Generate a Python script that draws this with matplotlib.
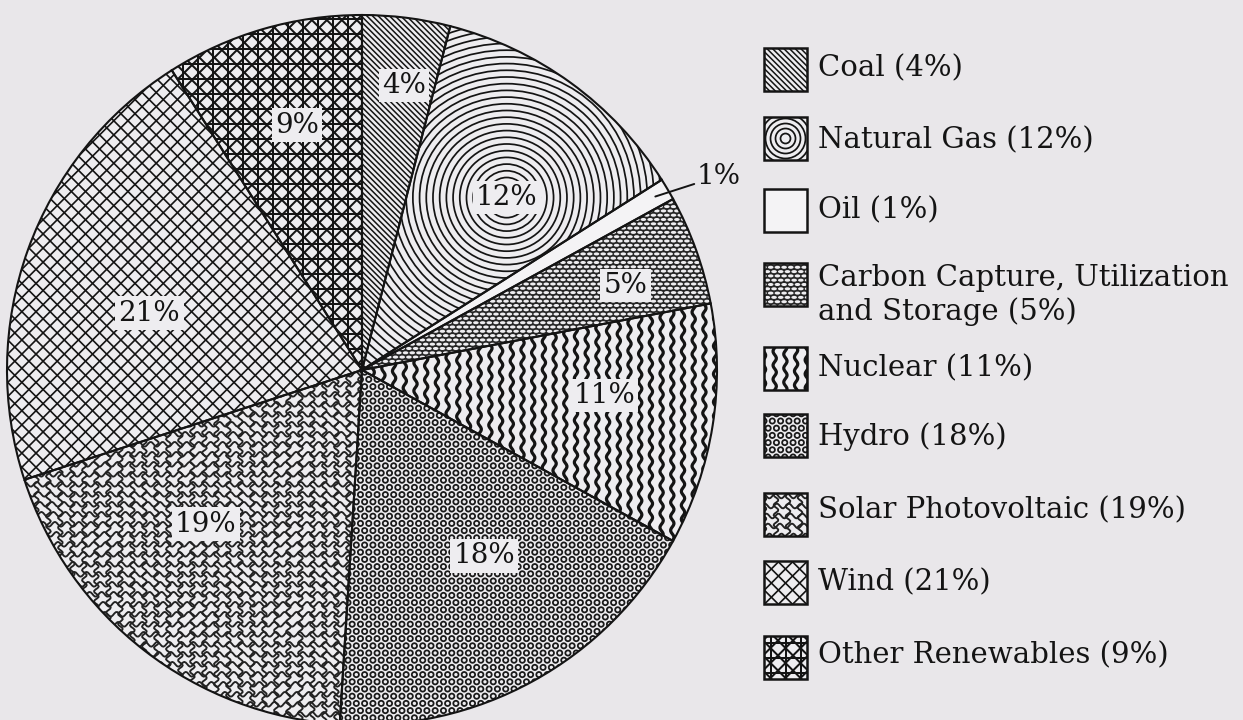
import numpy as np
import matplotlib
matplotlib.use('Agg')
import matplotlib.pyplot as plt
from matplotlib.collections import LineCollection
from matplotlib.patches import Wedge, Rectangle, Circle
from matplotlib.path import Path
from matplotlib.transforms import Affine2D

# data
names = ['Coal', 'Natural Gas', 'Oil', 'Carbon Capture, Utilization\nand Storage',
         'Nuclear', 'Hydro', 'Solar Photovoltaic', 'Wind', 'Other Renewables']
values = [4, 12, 1, 5, 11, 18, 19, 21, 9]
patterns = ['coal', 'gas', 'oil', 'ccus', 'nuclear', 'hydro', 'solar', 'wind', 'other']

# label placement (fraction of radius, angle shift in degrees)
lab_r = [0.81, 0.634, 0.96, 0.78, 0.686, 0.626, 0.618, 0.62, 0.714]
lab_da = [-1.2, -4.0, 0, -2.0, 3.0, 4.5, -7.6, 4.8, -1.3]
leg_y = [69, 138, 210, 284, 368, 435, 514, 582, 657]   # image pixels from top
leg_ty = [68, 140, 210, 295, 368, 437, 510, 582, 655]

BG = '#e9e7ea'
FILL = '#eeedf0'
INK = '#141414'
H = 720

plt.rcParams['font.family'] = ['DejaVu Serif']

fig = plt.figure(figsize=(12.43, 7.2), dpi=100, facecolor=BG)
ax = fig.add_axes([0, 0, 1, 1])
ax.set_facecolor(BG)

CX, CY, R = 362, H - 370, 355


def box_of(p):
    bb = p.get_patch_transform().transform_path(p.get_path()).get_extents()
    return bb.x0, bb.y0, bb.x1, bb.y1


def lines(ax, clip, box, angle, step, lw, offset=0.0, color=INK):
    x0, y0, x1, y1 = box
    c = np.array([(x0 + x1) / 2, (y0 + y1) / 2])
    half = np.hypot(x1 - x0, y1 - y0) / 2 + step
    t = np.radians(angle)
    d = np.array([np.cos(t), np.sin(t)])
    n = np.array([-np.sin(t), np.cos(t)])
    segs = [[c + n * k - d * half, c + n * k + d * half]
            for k in np.arange(-half, half, step) + offset]
    lc = LineCollection(segs, colors=color, linewidths=lw, zorder=2)
    ax.add_collection(lc)
    lc.set_clip_path(clip)


def waves(ax, clip, box, step, amp, wl, lw, vertical=True, color=INK, phase_step=0.0):
    x0, y0, x1, y1 = box
    segs = []
    if vertical:
        yy = np.linspace(y0 - 5, y1 + 5, int((y1 - y0) / 1.5) + 10)
        for i, x in enumerate(np.arange(x0 - step, x1 + step, step)):
            xs = x + amp * np.sin(2 * np.pi * yy / wl + i * phase_step)
            segs.append(np.column_stack([xs, yy]))
    else:
        xx = np.linspace(x0 - 5, x1 + 5, int((x1 - x0) / 1.5) + 10)
        for i, y in enumerate(np.arange(y0 - step, y1 + step, step)):
            ys = y + amp * np.sin(2 * np.pi * xx / wl + i * phase_step)
            segs.append(np.column_stack([xx, ys]))
    lc = LineCollection(segs, colors=color, linewidths=lw, zorder=2)
    ax.add_collection(lc)
    lc.set_clip_path(clip)


def dots(ax, clip, box, dx, dy, marker, s, fc, ec, lw):
    x0, y0, x1, y1 = box
    pts = []
    for j, y in enumerate(np.arange(y0 - dy, y1 + dy, dy)):
        off = dx / 2 if j % 2 else 0
        for x in np.arange(x0 - dx, x1 + dx, dx):
            pts.append((x + off, y))
    pts = np.array(pts)
    sc = ax.scatter(pts[:, 0], pts[:, 1], s=s, marker=marker, facecolors=fc,
                    edgecolors=ec, linewidths=lw, zorder=2)
    sc.set_clip_path(clip)


def rings(ax, clip, center, rmax, step, lw):
    for r in np.arange(step, rmax, step):
        c = Circle(center, r, fill=False, ec=INK, lw=lw, zorder=2)
        ax.add_patch(c)
        c.set_clip_path(clip)


oval = Path.unit_circle().transformed(Affine2D().scale(1.0, 0.55))


def fill_pattern(kind, patch, box, center=None, small=False):
    if kind == 'coal':
        lines(ax, patch, box, -45, 4.0, 1.1)
    elif kind == 'gas':
        x0, y0, x1, y1 = box
        rings(ax, patch, center, np.hypot(x1 - x0, y1 - y0), 5.0 if small else 6.7, 1.25)
    elif kind == 'ccus':
        patch.set_facecolor('#262626')
        dots(ax, patch, box, 6.7, 4.3, oval, 16, FILL, 'none', 0)
    elif kind == 'nuclear':
        waves(ax, patch, box, 10.7, 1.7, 14, 2.3, vertical=True, phase_step=1.3)
    elif kind == 'hydro':
        dots(ax, patch, box, 8.3, 7.2, 'o', 14, 'none', '#1a1a1a', 1.3)
    elif kind == 'solar':
        waves(ax, patch, box, 10, 2.4, 12, 1.35, vertical=False, color='#222222', phase_step=0.8)
        waves(ax, patch, box, 12, 2.4, 10, 1.35, vertical=True, color='#222222', phase_step=0.8)
    elif kind == 'wind':
        lines(ax, patch, box, 45, 10, 1.2)
        lines(ax, patch, box, -45, 10, 1.2)
    elif kind == 'other':
        lines(ax, patch, box, 0, 15, 1.45)
        lines(ax, patch, box, 90, 15, 1.45)
        lines(ax, patch, box, 45, 10.6, 1.45, offset=5.3)
        lines(ax, patch, box, -45, 10.6, 1.45, offset=5.3)


wedges, _ = ax.pie(values, radius=R, center=(CX, CY), startangle=90, counterclock=False,
                   colors=[FILL] * len(values),
                   wedgeprops=dict(edgecolor='none', linewidth=0))

mids = []
for w, kind, i in zip(wedges, patterns, range(len(values))):
    mid = np.radians((w.theta1 + w.theta2) / 2 + lab_da[i])
    mids.append(mid)
    lx = CX + lab_r[i] * R * np.cos(mid)
    ly = CY + lab_r[i] * R * np.sin(mid)
    if kind == 'oil':
        w.set_facecolor('#f4f3f5')
    fill_pattern(kind, w, box_of(w), center=(lx, ly))
    ax.add_patch(Wedge(w.center, w.r, w.theta1, w.theta2, fill=False,
                       ec=INK, lw=1.5, zorder=5))

for i, v in enumerate(values):
    lx = CX + lab_r[i] * R * np.cos(mids[i])
    ly = CY + lab_r[i] * R * np.sin(mids[i])
    if patterns[i] == 'oil':
        ax.annotate(f'{v}%', xy=(lx, ly), xytext=(697, H - 176), fontsize=20,
                    color=INK, va='center', ha='left', zorder=7,
                    arrowprops=dict(arrowstyle='-', color=INK, lw=1.4,
                                    shrinkA=0, shrinkB=0))
    else:
        ax.text(lx, ly, f'{v}%', fontsize=20, color=INK, ha='center', va='center',
                zorder=7, bbox=dict(boxstyle='square,pad=0.12', fc=FILL, ec='none'))

# legend
for i, (name, v, kind) in enumerate(zip(names, values, patterns)):
    sx, sy, ss = 764, H - leg_y[i] - 22, 43
    rect = Rectangle((sx, sy), ss, ss, fc='#f4f3f5' if kind == 'oil' else FILL,
                     ec='none', zorder=1)
    ax.add_patch(rect)
    fill_pattern(kind, rect, (sx, sy, sx + ss, sy + ss),
                 center=(sx + ss / 2, sy + ss / 2), small=True)
    ax.add_patch(Rectangle((sx, sy), ss, ss, fill=False, ec=INK, lw=1.8, zorder=5))
    ax.text(818, H - leg_ty[i], f'{name} ({v}%)', fontsize=21, color=INK,
            ha='left', va='center', linespacing=1.2)

ax.set_xlim(0, 1243)
ax.set_ylim(0, H)
ax.set_aspect('auto')
ax.axis('off')

fig.savefig('out.png', dpi=100, facecolor=BG)
